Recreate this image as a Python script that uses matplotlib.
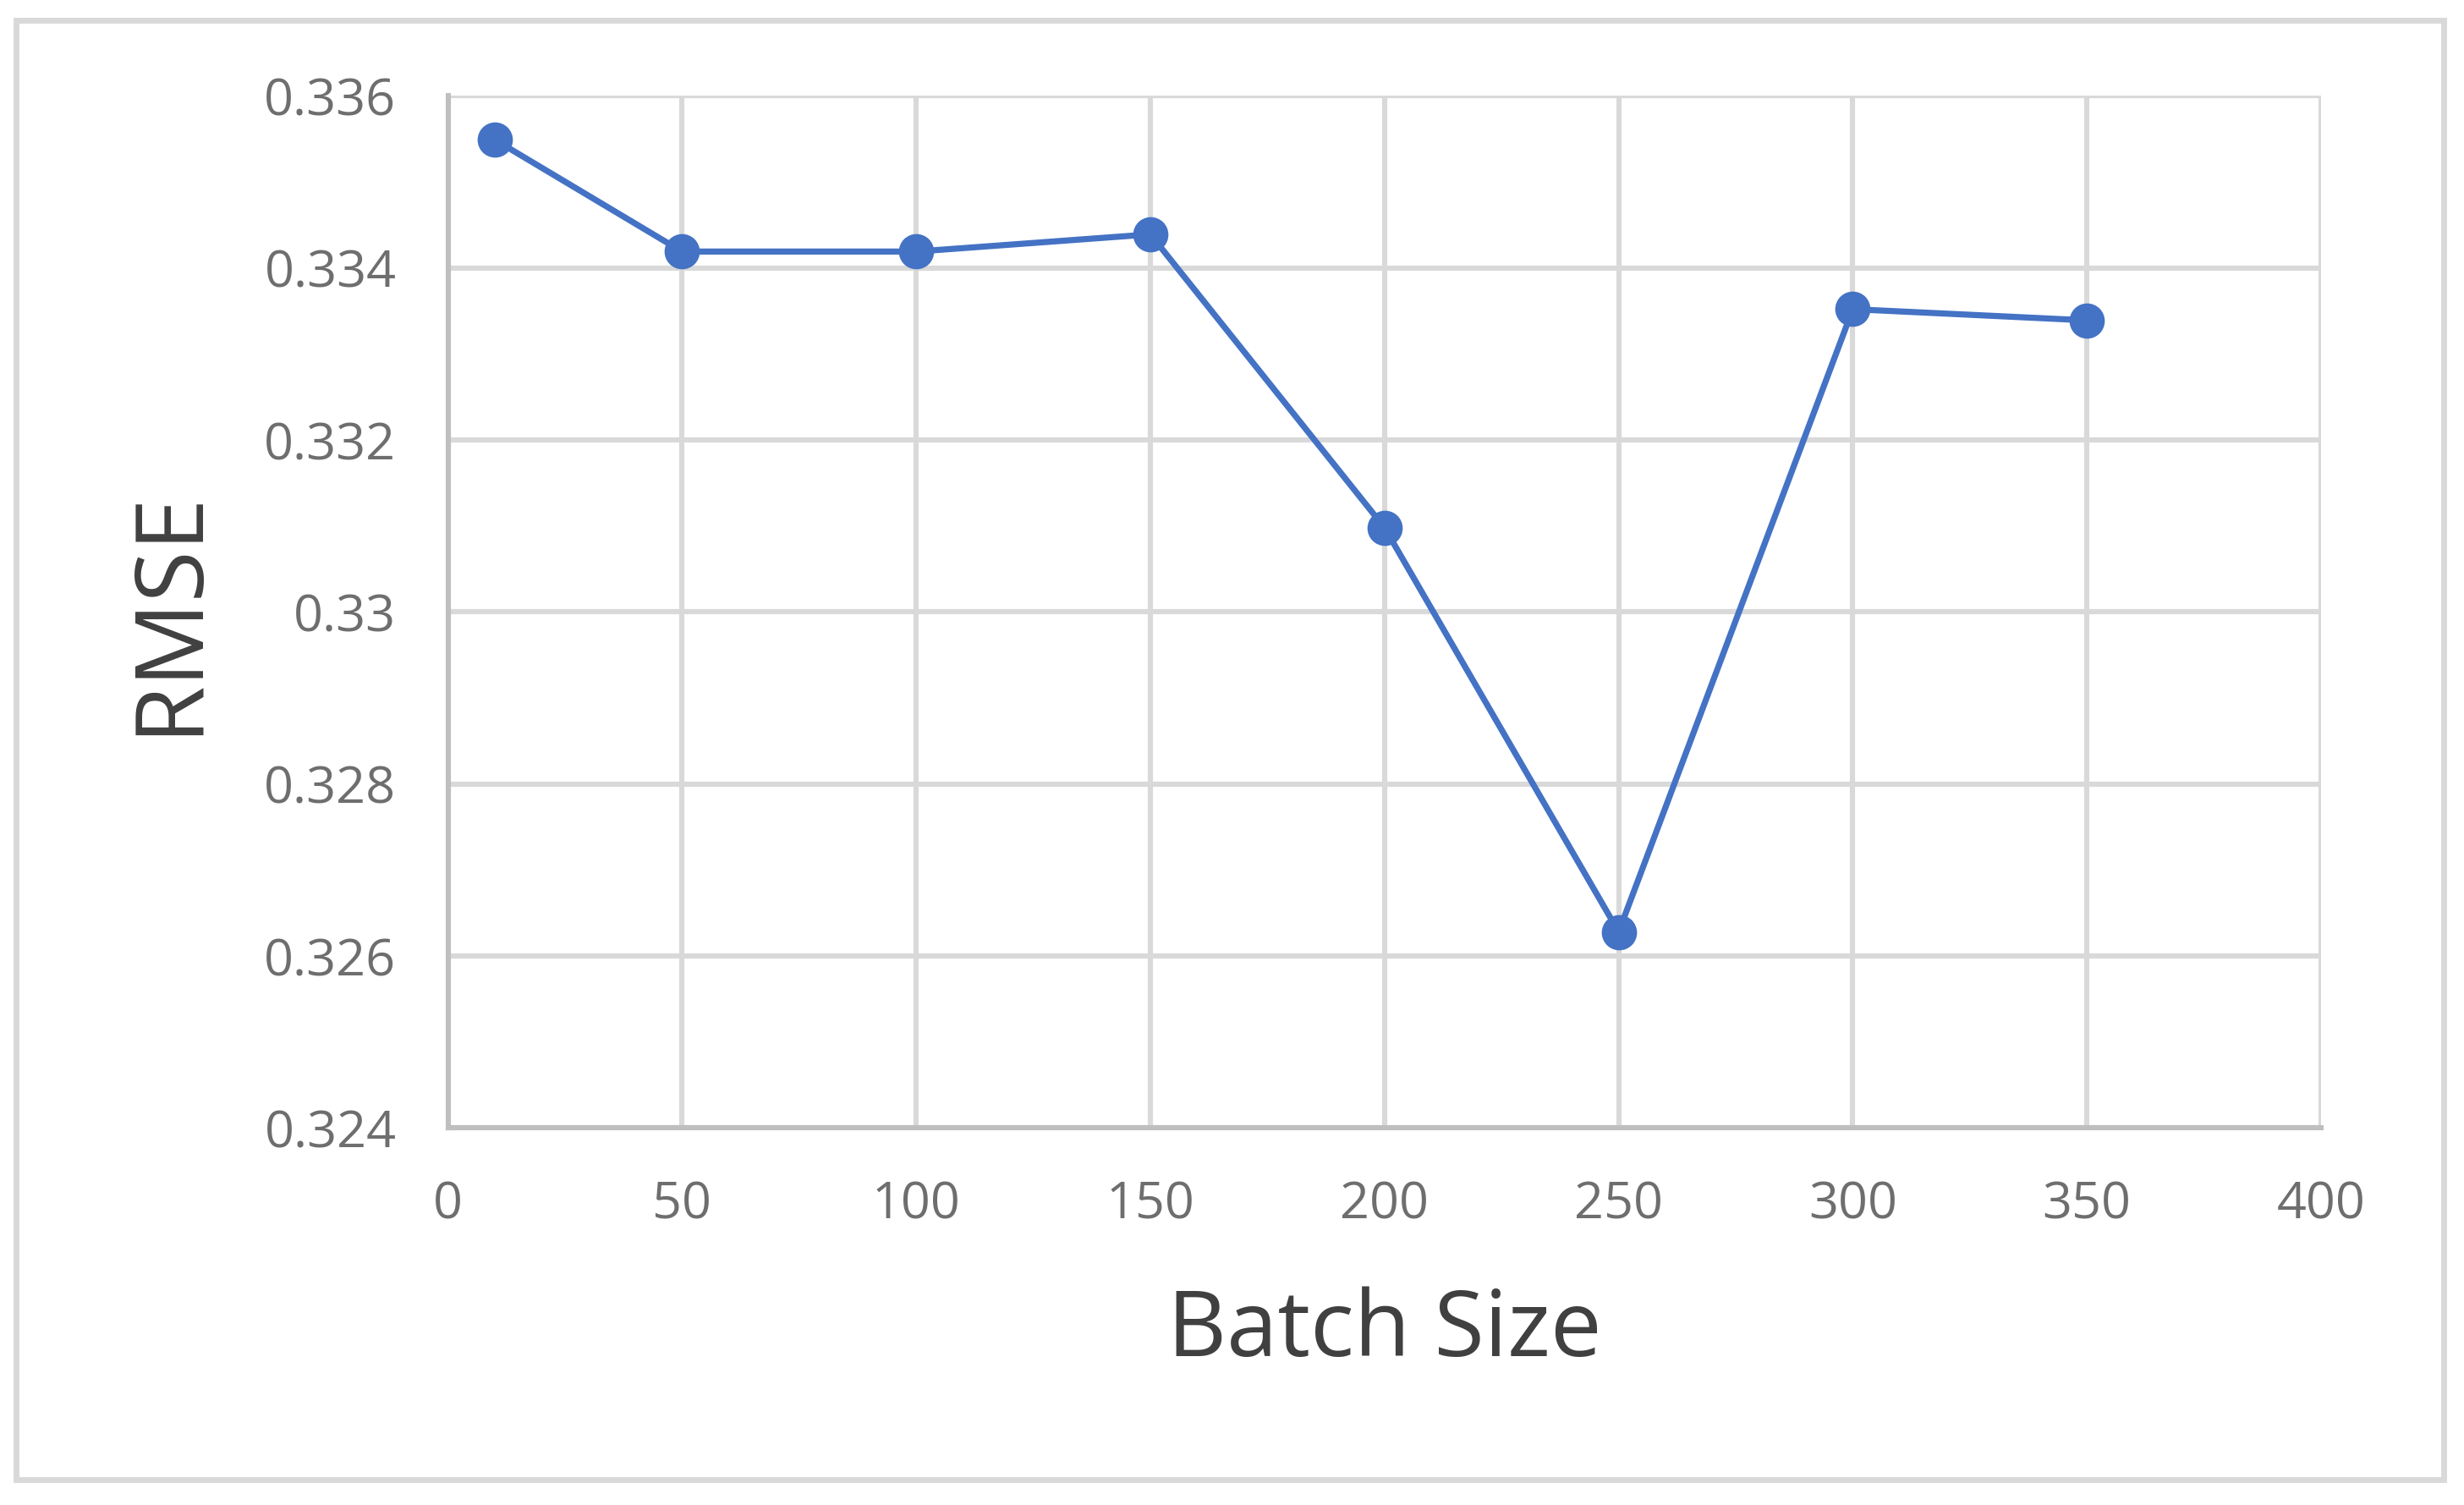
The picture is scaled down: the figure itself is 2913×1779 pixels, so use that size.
import matplotlib
matplotlib.use("Agg")
import matplotlib.pyplot as plt
from matplotlib.patches import Rectangle

# data
batch_size = [10, 50, 100, 150, 200, 250, 300, 350]
rmse = [0.33549, 0.33419, 0.33419, 0.33439, 0.33098, 0.32628, 0.33352, 0.33339]

x_ticks = [0, 50, 100, 150, 200, 250, 300, 350, 400]
y_ticks = [0.324, 0.326, 0.328, 0.33, 0.332, 0.334, 0.336]
y_tick_labels = ['0.324', '0.326', '0.328', '0.33', '0.332', '0.334', '0.336']

plt.rcParams['font.family'] = ['Open Sans', 'DejaVu Sans']

fig = plt.figure(figsize=(14.565, 8.895), dpi=200)
ax = fig.add_axes([0.1818, 0.2505, 0.942 - 0.1818, 0.9363 - 0.2505])

ax.plot(batch_size, rmse, color='#4472C4', linewidth=2.6, marker='o',
        markersize=14, zorder=3)

ax.set_xlim(0, 400)
ax.set_ylim(0.324, 0.336)
ax.set_xticks(x_ticks)
ax.set_yticks(y_ticks)
ax.set_yticklabels(y_tick_labels)
ax.tick_params(length=0, labelsize=22, labelcolor='#6E6E6E', pad=22)

ax.grid(True, color='#D9D9D9', linewidth=2.2)
ax.set_axisbelow(True)
for side in ['top', 'right']:
    ax.spines[side].set_visible(False)
for side in ['left', 'bottom']:
    ax.spines[side].set_color('#BFBFBF')
    ax.spines[side].set_linewidth(2.2)

ax.set_xlabel('Batch Size', fontsize=39, color='#404040', va='center')
ax.set_ylabel('RMSE', fontsize=40, color='#404040', va='center')
ax.xaxis.set_label_coords(0.5, -0.198)
ax.yaxis.set_label_coords(-0.1485, 0.5)

# outer chart frame
fig.patches.append(Rectangle((0.0064, 0.0167), 0.9853, 0.9697,
                             transform=fig.transFigure, fill=False,
                             edgecolor='#D9D9D9', linewidth=2.5))

fig.savefig('out.png', dpi=200, facecolor='white')
